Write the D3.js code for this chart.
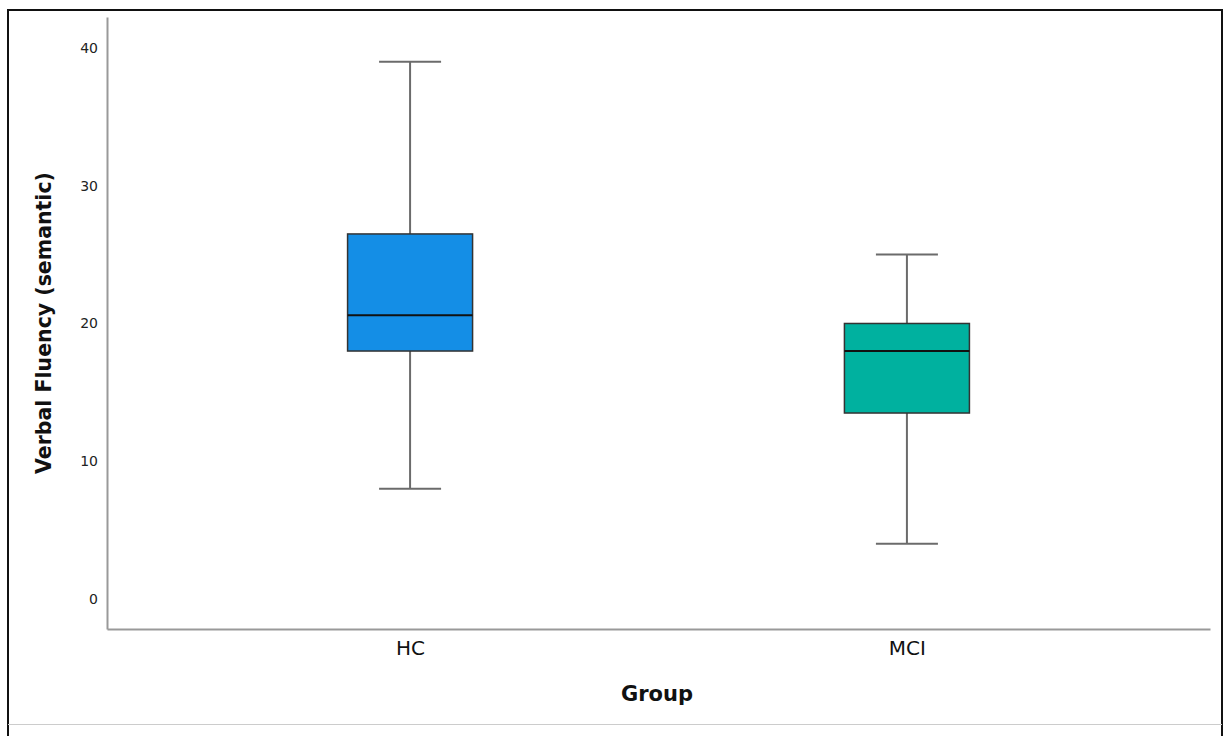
<!DOCTYPE html>
<html>
<head>
<meta charset="utf-8">
<script src="https://cdn.jsdelivr.net/npm/d3@7"></script>
<style>
  body { margin: 0; background: #fff; }
  text { font-family: 'DejaVu Sans', sans-serif; }
</style>
</head>
<body>
<div class="root"></div>
<script>
const groups = ['HC', 'MCI']
const whiskerLow = [8, 4]
const q1 = [18, 13.5]
const medians = [20.6, 18]
const q3 = [26.5, 20]
const whiskerHigh = [39, 25]
const boxColors = ['#148ee6', '#00b19f']
const yTicks = [0, 10, 20, 30, 40]

function renderGraph () {
  const width = 1225, height = 736
  const margin = { top: 17, bottom: 107, left: 107, right: 15 }
  const plotW = width - margin.left - margin.right
      , plotH = height - margin.top - margin.bottom

  d3.select('.root').selectAll('*').remove()

  const svg = d3.select('.root')
                .append('svg')
                .attr('width', width)
                .attr('height', height)

  // outer frame
  svg.append('rect')
     .attr('x', 8).attr('y', 10)
     .attr('width', 1214).attr('height', 740)
     .attr('fill', 'none')
     .attr('stroke', '#111')
     .attr('stroke-width', 2)
  svg.append('line')
     .attr('x1', 8).attr('x2', 1222)
     .attr('y1', 724.5).attr('y2', 724.5)
     .attr('stroke', '#ccc')

  const canvas = svg.append('g')
                    .attr('transform', `translate(${margin.left}, ${margin.top})`)

  const scaleY = d3.scaleLinear()
                   .domain([-2.18, 42.25])
                   .range([plotH, 0])

  const scaleX = d3.scalePoint()
                   .domain(groups)
                   .range([0, plotW])
                   .padding(0.61)

  const yAxis = d3.axisLeft(scaleY).tickValues(yTicks).tickSize(0).tickPadding(9)
  const yg = canvas.append('g').call(yAxis)
  yg.select('.domain').attr('stroke', '#999').attr('stroke-width', 2)
  yg.selectAll('text').attr('font-size', 14).attr('fill', '#222')

  const xAxis = d3.axisBottom(scaleX).tickSize(0).tickPadding(12)
  const xg = canvas.append('g').attr('transform', `translate(0, ${plotH})`).call(xAxis)
  xg.select('.domain').attr('stroke', '#999').attr('stroke-width', 2)
  xg.selectAll('text').attr('font-size', 20).attr('fill', '#111')

  const boxW = 125, capW = 62

  const box = canvas.append('g')
                    .selectAll('g')
                    .data(groups)
                    .enter()
                    .append('g')
                    .attr('transform', d => `translate(${scaleX(d)}, 0)`)

  box.append('line')
     .attr('y1', (d, i) => scaleY(whiskerHigh[i]))
     .attr('y2', (d, i) => scaleY(whiskerLow[i]))
     .attr('stroke', '#6b6b6b').attr('stroke-width', 2)

  box.selectAll('line.cap')
     .data((d, i) => [whiskerLow[i], whiskerHigh[i]])
     .enter()
     .append('line')
     .attr('class', 'cap')
     .attr('x1', -capW / 2).attr('x2', capW / 2)
     .attr('y1', v => scaleY(v)).attr('y2', v => scaleY(v))
     .attr('stroke', '#6b6b6b').attr('stroke-width', 2)

  box.append('rect')
     .attr('x', -boxW / 2)
     .attr('width', boxW)
     .attr('y', (d, i) => scaleY(q3[i]))
     .attr('height', (d, i) => scaleY(q1[i]) - scaleY(q3[i]))
     .attr('fill', (d, i) => boxColors[i])
     .attr('stroke', '#333').attr('stroke-width', 1.5)

  box.append('line')
     .attr('x1', -boxW / 2).attr('x2', boxW / 2)
     .attr('y1', (d, i) => scaleY(medians[i]))
     .attr('y2', (d, i) => scaleY(medians[i]))
     .attr('stroke', '#111').attr('stroke-width', 2)

  svg.append('text')
     .attr('x', 657).attr('y', 701)
     .attr('text-anchor', 'middle')
     .attr('font-size', 21).attr('font-weight', 'bold')
     .attr('fill', '#111')
     .text('Group')

  svg.append('text')
     .attr('transform', 'translate(51, 323) rotate(-90)')
     .attr('text-anchor', 'middle')
     .attr('font-size', 20.5).attr('font-weight', 'bold')
     .attr('fill', '#111')
     .text('Verbal Fluency (semantic)')
}

document.addEventListener('DOMContentLoaded', renderGraph)
</script>
</body>
</html>
